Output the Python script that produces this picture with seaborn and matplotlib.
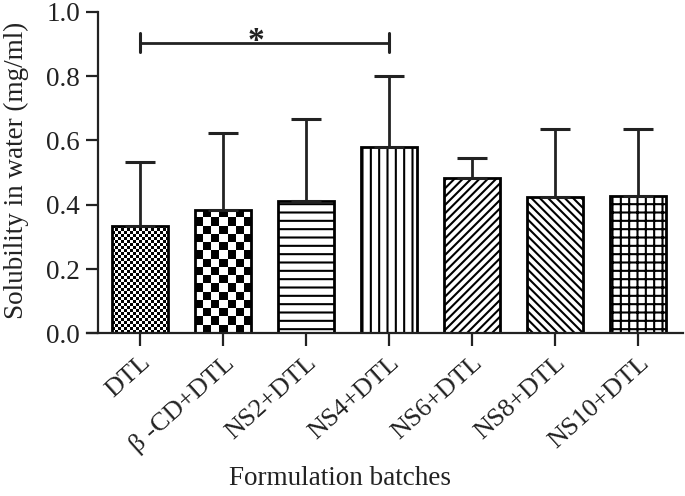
import numpy as np
import pandas as pd
import matplotlib
matplotlib.use("Agg")
import matplotlib.pyplot as plt
import seaborn as sns

# values
batches = ["DTL", "β -CD+DTL", "NS2+DTL", "NS4+DTL", "NS6+DTL", "NS8+DTL", "NS10+DTL"]
means = [0.335, 0.385, 0.412, 0.579, 0.482, 0.425, 0.428]
sd = [0.199, 0.237, 0.254, 0.221, 0.064, 0.211, 0.208]
patterns = ["checker3", "checker8", "--", "||", "////", "\\\\\\\\", "++"]
sig_pair = ("DTL", "NS4+DTL")
sig_label = "*"

sns.set_style("ticks")
plt.rcParams["font.family"] = ["Liberation Serif", "DejaVu Serif"]
plt.rcParams["hatch.linewidth"] = 1.5

df = pd.DataFrame({"batch": batches, "solubility": means})

fig = plt.figure(figsize=(6.85, 4.96), dpi=100)
ax = fig.add_axes([87 / 685, 1 - 333.4 / 496, (683 - 87) / 685, (333.4 - 11.7) / 496])

sns.barplot(data=df, x="batch", y="solubility", color="white", edgecolor="black",
            linewidth=2, width=0.675, errorbar=None, ax=ax, zorder=2)

ax.set_xlim(-0.639, 6.54)
ax.set_ylim(0, 1.0)

# patterns (checkerboards drawn as images clipped to the bar)
for patch, pat in zip(ax.patches, patterns):
    if pat.startswith("checker"):
        cell = float(pat[7:])
        x0, y0 = patch.get_x(), patch.get_y()
        w, h = patch.get_width(), patch.get_height()
        p0 = ax.transData.transform((x0, y0))
        p1 = ax.transData.transform((x0 + w, y0 + h))
        ncol = max(1, int(round(abs(p1[0] - p0[0]) / cell)))
        nrow = max(1, int(round(abs(p1[1] - p0[1]) / cell)))
        board = (np.add.outer(np.arange(nrow), np.arange(ncol)) % 2).astype(float)
        img = ax.imshow(board, cmap="gray_r", interpolation="nearest", aspect="auto",
                        extent=(x0, x0 + w, y0, y0 + h), origin="lower", zorder=1.5)
        img.set_clip_path(patch)
        patch.set_facecolor("none")
    else:
        patch.set_hatch(pat)

ax.set_xlim(-0.639, 6.54)
ax.set_ylim(0, 1.0)

# upper error bars
xs = np.arange(len(batches))
ax.errorbar(xs, means, yerr=[np.zeros(len(sd)), sd], fmt="none", ecolor="#222222",
            elinewidth=2, capsize=11, capthick=2.2, zorder=3)

# significance bracket
i0, i1 = batches.index(sig_pair[0]), batches.index(sig_pair[1])
ax.plot([i0, i1], [0.904, 0.904], color="#222222", lw=2, clip_on=False)
ax.plot([i0, i0], [0.875, 0.933], color="#222222", lw=2.2, clip_on=False)
ax.plot([i1, i1], [0.875, 0.933], color="#222222", lw=2.2, clip_on=False)
ax.text(1.4, 0.88, sig_label, ha="center", va="baseline", fontsize=24,
        fontweight="bold", color="#222222")

# axes styling
ax.spines["left"].set_position(("data", -0.506))
ax.spines["left"].set_bounds(0, 1.0)
ax.spines["top"].set_visible(False)
ax.spines["right"].set_visible(False)
for s in ["left", "bottom"]:
    ax.spines[s].set_linewidth(1.6)
    ax.spines[s].set_color("#222222")
ax.set_yticks([0.0, 0.2, 0.4, 0.6, 0.8, 1.0])
ax.set_yticklabels(["0.0", "0.2", "0.4", "0.6", "0.8", "1.0"])
ax.tick_params(axis="both", length=9, width=1.6, color="#222222",
               labelsize=19.5, labelcolor="#222222", pad=4)
ax.set_xticks(xs)
ax.set_xticklabels(batches, rotation=42, ha="right", rotation_mode="anchor",
                   fontsize=19)

ax.set_ylabel("Solubility in water (mg/ml)", fontsize=19.5, color="#222222",
              va="center")
ax.yaxis.set_label_coords(-0.118, 0.508)
ax.set_xlabel("Formulation batches", fontsize=19.5, color="#222222", va="center")
ax.xaxis.set_label_coords(0.4245, -0.4495)

fig.savefig("out.png", dpi=100)
